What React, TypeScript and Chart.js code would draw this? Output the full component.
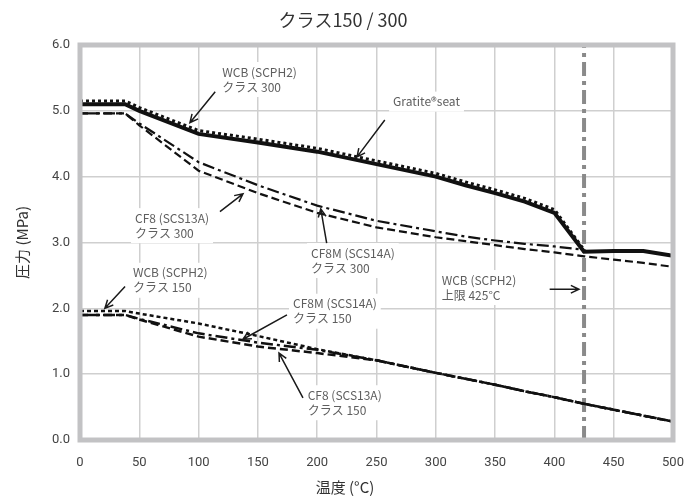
import React, { useEffect, useRef } from "react";
import { Chart, registerables } from "chart.js";

Chart.register(...registerables);

const temps = [0, 38, 50, 100, 150, 200, 250, 300, 325, 350, 375, 400, 425, 450, 475, 500];
const wcb300 = [5.1, 5.1, 5.0, 4.65, 4.52, 4.38, 4.19, 4.0, 3.87, 3.75, 3.62, 3.45, 2.86, 2.87, 2.87, 2.8];
const gratite = [5.15, 5.15, 5.05, 4.7, 4.57, 4.43, 4.24, 4.05, 3.92, 3.8, 3.67, 3.5, 2.89, null, null, null];
const cf8m300 = [4.96, 4.96, 4.81, 4.22, 3.87, 3.56, 3.33, 3.17, 3.09, 3.03, 2.98, 2.94, 2.89, null, null, null];
const cf8300 = [4.96, 4.96, 4.78, 4.09, 3.75, 3.45, 3.23, 3.08, 3.02, 2.96, 2.9, 2.85, 2.79, 2.74, 2.69, 2.63];
const wcb150 = [1.96, 1.96, 1.92, 1.77, 1.58, 1.38, 1.21, 1.02, 0.93, 0.84, 0.74, 0.65, 0.55, 0.46, 0.37, 0.28];
const cf8m150 = [1.9, 1.9, 1.84, 1.62, 1.48, 1.37, 1.21, 1.02, 0.93, 0.84, 0.74, 0.65, 0.55, 0.46, 0.37, 0.28];
const cf8150 = [1.9, 1.9, 1.83, 1.57, 1.42, 1.32, 1.21, 1.02, 0.93, 0.84, 0.74, 0.65, 0.55, 0.46, 0.37, 0.28];
const limitTemp = [425, 425];
const limitPress = [0, 6];

const titleText = "クラス150 / 300";
const xTitle = "温度 (°C)";
const yTitle = "圧力 (MPa)";

// annotations: text lines, text anchor (data coords), arrow from -> to (data coords)
const noteLines = [
  ["WCB (SCPH2)", "クラス 300"],
  ["Gratite®seat"],
  ["CF8 (SCS13A)", "クラス 300"],
  ["CF8M (SCS14A)", "クラス 300"],
  ["WCB (SCPH2)", "上限 425°C"],
  ["WCB (SCPH2)", "クラス 150"],
  ["CF8M (SCS14A)", "クラス 150"],
  ["CF8 (SCS13A)", "クラス 150"],
];
const noteAt = [
  [120, 5.59], [264, 5.14], [46.4, 3.37], [194.8, 2.84],
  [305, 2.43], [44.7, 2.54], [179.6, 2.07], [192, 0.68],
];
const arrowFrom = [
  [114, 5.29], [257, 4.86], [118, 3.47], [208, 2.99],
  [396, 2.29], [38, 2.33], [174.5, 1.9], [188, 0.64],
];
const arrowTo = [
  [92.7, 4.82], [233.6, 4.3], [137.4, 3.74], [203, 3.51],
  [420.7, 2.29], [21, 2.0], [137.4, 1.53], [167.8, 1.32],
];

const pts = (vals: (number | null)[]) => temps.map((t, i) => ({ x: t, y: vals[i] }));

const decor = {
  id: "decor",
  afterDatasetsDraw(chart: any) {
    const { ctx, chartArea: a, scales } = chart;
    const xs = scales.x, ys = scales.y;
    ctx.save();
    // border
    ctx.strokeStyle = "#c2c2c4";
    ctx.lineWidth = 5;
    ctx.setLineDash([]);
    ctx.strokeRect(a.left, a.top, a.right - a.left, a.bottom - a.top);
    // notes
    ctx.font = "12px 'Noto Sans CJK JP', 'Noto Sans', sans-serif";
    ctx.textBaseline = "middle";
    ctx.textAlign = "left";
    noteLines.forEach((lines, i) => {
      const px = xs.getPixelForValue(noteAt[i][0]);
      const py = ys.getPixelForValue(noteAt[i][1]);
      const w = Math.max(...lines.map((l) => ctx.measureText(l).width));
      ctx.fillStyle = "#ffffff";
      ctx.fillRect(px - 4, py - 10, w + 8, lines.length * 15 + 5);
      ctx.fillStyle = "#5e5e5e";
      lines.forEach((l, j) => ctx.fillText(l, px, py + j * 15));
    });
    // arrows
    ctx.strokeStyle = "#1a1a1a";
    ctx.lineWidth = 1.5;
    arrowFrom.forEach((f, i) => {
      const x1 = xs.getPixelForValue(f[0]), y1 = ys.getPixelForValue(f[1]);
      const x2 = xs.getPixelForValue(arrowTo[i][0]), y2 = ys.getPixelForValue(arrowTo[i][1]);
      const ang = Math.atan2(y2 - y1, x2 - x1);
      ctx.beginPath();
      ctx.moveTo(x1, y1);
      ctx.lineTo(x2, y2);
      const h = 9, sp = 0.45;
      ctx.moveTo(x2 - h * Math.cos(ang - sp), y2 - h * Math.sin(ang - sp));
      ctx.lineTo(x2, y2);
      ctx.lineTo(x2 - h * Math.cos(ang + sp), y2 - h * Math.sin(ang + sp));
      ctx.stroke();
    });
    ctx.restore();
  },
  afterDraw(chart: any) {
    const { ctx, chartArea: a } = chart;
    ctx.save();
    ctx.fillStyle = "#333333";
    ctx.textAlign = "center";
    ctx.textBaseline = "middle";
    ctx.font = "18px 'Noto Sans CJK JP', sans-serif";
    ctx.fillText(titleText, 343, 20);
    ctx.font = "15px 'Noto Sans CJK JP', sans-serif";
    ctx.fillText(xTitle, 345, 487);
    ctx.translate(22, (a.top + a.bottom) / 2);
    ctx.rotate(-Math.PI / 2);
    ctx.fillText(yTitle, 0, 0);
    ctx.restore();
  },
};

export default function App() {
  const ref = useRef<HTMLCanvasElement>(null);
  useEffect(() => {
    document.body.style.margin = "0";
    const canvas = ref.current!;
    const ds = (label: string, vals: (number | null)[], dash: number[], width: number, order: number, color = "#111111") => ({
      label,
      data: pts(vals),
      borderColor: color,
      borderWidth: width,
      borderDash: dash,
      pointRadius: 0,
      fill: false,
      tension: 0,
      spanGaps: false,
      order,
    });
    const chart = new Chart(canvas, {
      type: "line",
      data: {
        datasets: [
          ds("WCB クラス 300", wcb300, [], 4, 1),
          ds("Gratite seat", gratite, [3, 3], 3, 2),
          ds("CF8M クラス 300", cf8m300, [12, 4, 3, 4], 2.2, 3),
          ds("CF8 クラス 300", cf8300, [8, 4], 2.2, 4),
          ds("WCB クラス 150", wcb150, [4, 3], 2.5, 5),
          ds("CF8M クラス 150", cf8m150, [12, 4, 3, 4], 2.5, 6),
          ds("CF8 クラス 150", cf8150, [8, 4], 2.5, 7),
          {
            label: "WCB 上限",
            data: limitTemp.map((t, i) => ({ x: t, y: limitPress[i] })),
            borderColor: "#8a8a8a",
            borderWidth: 4,
            borderDash: [14, 5, 4, 5],
            pointRadius: 0,
            fill: false,
            order: 8,
          },
        ] as any,
      },
      options: {
        animation: false,
        responsive: false,
        devicePixelRatio: 1,
        layout: { padding: { top: 45, right: 13, left: 0, bottom: 0 } },
        plugins: { legend: { display: false }, title: { display: false }, tooltip: { enabled: false } },
        scales: {
          x: {
            type: "linear",
            min: 0,
            max: 500,
            afterFit: (s: any) => { s.height = 60; s.paddingLeft = 0; s.paddingRight = 0; },
            ticks: { stepSize: 50, color: "#444", padding: 15, font: { family: "Roboto", size: 13 } },
            grid: { color: "#cfcfcf", lineWidth: 1.5, drawTicks: false },
            border: { display: false },
          },
          y: {
            type: "linear",
            min: 0,
            max: 6,
            afterFit: (s: any) => { s.width = 80; s.paddingTop = 0; s.paddingBottom = 0; },
            ticks: { stepSize: 1, color: "#444", padding: 10, font: { family: "Roboto", size: 13 }, callback: (v: any) => Number(v).toFixed(1) },
            grid: { color: "#cfcfcf", lineWidth: 1.5, drawTicks: false },
            border: { display: false },
          },
        },
      } as any,
      plugins: [decor],
    });
    return () => chart.destroy();
  }, []);
  return <canvas ref={ref} width={686} height={500} style={{ display: "block", width: 686, height: 500 }} />;
}
